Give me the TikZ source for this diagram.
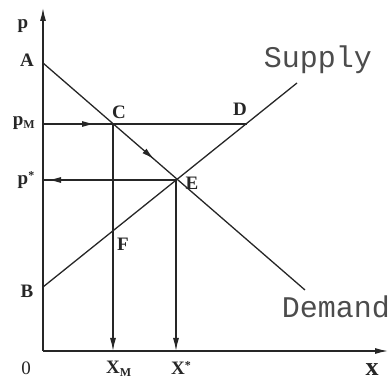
\documentclass[tikz,border=0pt]{standalone}
\usepackage{fontspec}
\setmainfont{Liberation Serif}
\newfontfamily\curvefont{Liberation Mono}
\usetikzlibrary{arrows.meta, decorations.markings}

\begin{document}
\begin{tikzpicture}[
    x=1pt, y=-1pt,
    ln/.style={line width=1.3pt, black!85},
    tip/.style={-{Latex[length=13pt, width=6pt]}},
    midarr/.style={postaction={decorate}, decoration={markings,
        mark=at position #1 with {\arrow{Latex[length=13pt, width=6pt]}}}},
    lbl/.style={font=\bfseries\fontsize{19}{19}\selectfont, inner sep=0pt, text=black!85},
    crv/.style={font=\curvefont\fontsize{30}{30}\selectfont, inner sep=0pt, text=black!70},
]
\useasboundingbox (0,0) rectangle (392,385);

% ── Axes ──
\coordinate (O) at (43, 351);
\coordinate (ytop) at (43, 8);
\coordinate (xend) at (388, 351);
\draw[ln, tip] (O) -- (ytop);
\draw[ln, tip] (O) -- (xend);

% ── Points ──
\coordinate (A) at (43, 63);
\coordinate (B) at (43, 287);
\coordinate (C) at (113, 124);
\coordinate (D) at (247, 124);
\coordinate (E) at (176, 180);
\coordinate (F) at (113, 231);
\coordinate (pM) at (43, 124);
\coordinate (ps) at (43, 180);
\coordinate (XM) at (113, 351);
\coordinate (Xs) at (176, 351);
\coordinate (dend) at (305, 290);
\coordinate (send) at (297, 83);

% ── Curves ──
\draw[ln, midarr=0.425] (A) -- (dend);
\draw[ln] (B) -- (send);

% ── Price and quantity lines ──
\draw[ln, midarr=0.255] (pM) -- (D);
\draw[ln] (E) -- (ps);
\draw[ln, tip, shorten >=5pt] (E) -- (ps);
\draw[ln, tip] (C) -- (XM);
\draw[ln, tip] (E) -- (Xs);

% ── Labels ──
\node[lbl] (labp) at (23, 26) {p};
\node[lbl] (labA) at (27, 60) {A};
\node[lbl] (labpM) at (24, 123) {p$_{\textrm{\fontsize{12}{12}\selectfont M}}$};
\node[lbl] (labps) at (26, 180) {p\raisebox{5pt}{\fontsize{12}{12}\selectfont *}};
\node[lbl] (labB) at (27, 291) {B};
\node[lbl, font=\fontsize{19}{19}\selectfont] (lab0) at (26, 368) {0};
\node[lbl] (labC) at (119, 112) {C};
\node[lbl] (labD) at (240, 109) {D};
\node[lbl] (labE) at (192, 183) {E};
\node[lbl] (labF) at (123, 244) {F};
\node[lbl] (labXM) at (119, 369) {X$_{\textrm{\fontsize{12}{12}\selectfont M}}$};
\node[lbl] (labXs) at (181, 368) {X\raisebox{5pt}{\fontsize{12}{12}\selectfont *}};
\node[lbl, font=\bfseries\fontsize{26}{26}\selectfont] (labx) at (372, 370) {x};
\node[crv] (labSup) at (318, 60) {Supply};
\node[crv] (labDem) at (336, 307) {Demand};

\end{tikzpicture}
\end{document}
